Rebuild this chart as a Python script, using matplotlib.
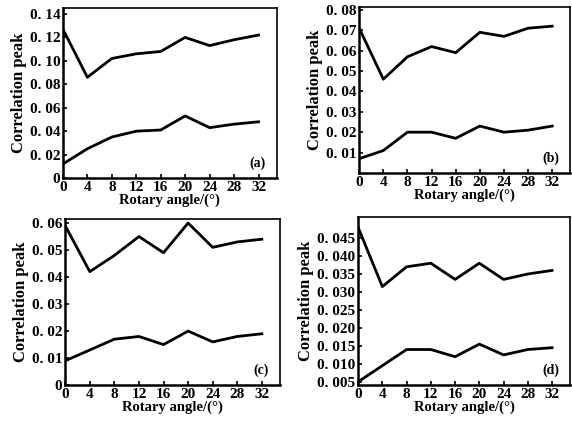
import matplotlib.pyplot as plt

plt.rcParams['font.family'] = ['Liberation Serif', 'DejaVu Serif']
plt.rcParams['font.weight'] = 'bold'

angles = [0, 4, 8, 12, 16, 20, 24, 28, 32]

# (a)
a_upper = [0.127, 0.086, 0.102, 0.106, 0.108, 0.120, 0.113, 0.118, 0.122]
a_lower = [0.012, 0.025, 0.035, 0.040, 0.041, 0.053, 0.043, 0.046, 0.048]
a_ticks = [0, 0.02, 0.04, 0.06, 0.08, 0.10, 0.12, 0.14]
a_labels = ['0', '0. 02', '0. 04', '0. 06', '0. 08', '0. 10', '0. 12', '0. 14']

# (b)
b_upper = [0.071, 0.046, 0.057, 0.062, 0.059, 0.069, 0.067, 0.071, 0.072]
b_lower = [0.007, 0.011, 0.020, 0.020, 0.017, 0.023, 0.020, 0.021, 0.023]
b_ticks = [0.01, 0.02, 0.03, 0.04, 0.05, 0.06, 0.07, 0.08]
b_labels = ['0. 01', '0. 02', '0. 03', '0. 04', '0. 05', '0. 06', '0. 07', '0. 08']

# (c)
c_upper = [0.059, 0.042, 0.048, 0.055, 0.049, 0.060, 0.051, 0.053, 0.054]
c_lower = [0.009, 0.013, 0.017, 0.018, 0.015, 0.020, 0.016, 0.018, 0.019]
c_ticks = [0, 0.01, 0.02, 0.03, 0.04, 0.05, 0.06]
c_labels = ['0', '0. 01', '0. 02', '0. 03', '0. 04', '0. 05', '0. 06']

# (d)
d_upper = [0.048, 0.0315, 0.037, 0.038, 0.0335, 0.038, 0.0335, 0.035, 0.036]
d_lower = [0.005, 0.0095, 0.014, 0.014, 0.012, 0.0155, 0.0125, 0.014, 0.0145]
d_ticks = [0.005, 0.010, 0.015, 0.020, 0.025, 0.030, 0.035, 0.040, 0.045]
d_labels = ['0. 005', '0. 010', '0. 015', '0. 020', '0. 025', '0. 030', '0. 035', '0. 040', '0. 045']

panels = [
    ('(a)', a_upper, a_lower, a_ticks, a_labels, (0, 0.145), [0.110, 0.582, 0.374, 0.399]),
    ('(b)', b_upper, b_lower, b_ticks, b_labels, (0, 0.0815), [0.628, 0.594, 0.369, 0.390]),
    ('(c)', c_upper, c_lower, c_ticks, c_labels, (0, 0.0615), [0.114, 0.096, 0.376, 0.390]),
    ('(d)', d_upper, d_lower, d_ticks, d_labels, (0.0041, 0.0509), [0.626, 0.096, 0.371, 0.395]),
]

fig = plt.figure(figsize=(5.72, 4.26), dpi=100)

for name, up, low, ticks, labels, ylim, rect in panels:
    ax = fig.add_axes(rect)
    ax.plot(angles, up, color='black', lw=2)
    ax.plot(angles, low, color='black', lw=2)
    ax.set_xlim(0, 35)
    ax.set_ylim(*ylim)
    ax.set_xticks(angles)
    ax.set_yticks(ticks)
    ax.set_yticklabels(labels)
    ax.tick_params(direction='in', length=3, width=1.2, labelsize=11, pad=2)
    for s in ['left', 'bottom']:
        ax.spines[s].set_linewidth(1.8)
    for s in ['top', 'right']:
        ax.spines[s].set_linewidth(1.2)
    ax.set_xlabel('Rotary angle/(°)', fontsize=10.5, fontweight='bold', labelpad=0)
    ax.set_ylabel('Correlation peak', fontsize=12, fontweight='bold', labelpad=2)
    ax.text(0.91, 0.09, name, transform=ax.transAxes, ha='center', va='center',
            fontsize=10, fontweight='bold')

fig.savefig('out.png', dpi=100)
